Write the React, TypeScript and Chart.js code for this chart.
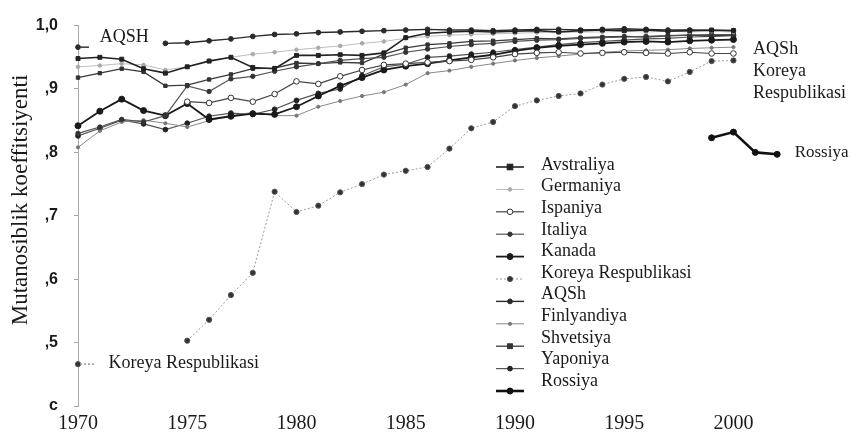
import React, { useEffect, useRef } from "react";
import { Chart, registerables } from "chart.js";

Chart.register(...registerables);

const years = [1970, 1971, 1972, 1973, 1974, 1975, 1976, 1977, 1978, 1979, 1980, 1981, 1982, 1983, 1984, 1985, 1986, 1987, 1988, 1989, 1990, 1991, 1992, 1993, 1994, 1995, 1996, 1997, 1998, 1999, 2000];

const avstraliya = [0.948, 0.95, 0.947, 0.932, 0.925, 0.935, 0.944, 0.95, 0.934, 0.932, 0.953, 0.953, 0.954, 0.953, 0.957, 0.981, 0.988, 0.99, 0.991, 0.99, 0.991, 0.992, 0.99, 0.992, 0.993, 0.992, 0.993, 0.991, 0.992, 0.993, 0.992];
const germaniya = [0.935, 0.937, 0.94, 0.938, 0.93, 0.935, 0.945, 0.95, 0.955, 0.958, 0.962, 0.965, 0.968, 0.972, 0.975, 0.98, 0.983, 0.985, 0.986, 0.987, 0.988, 0.989, 0.989, 0.99, 0.99, 0.991, 0.99, 0.991, 0.99, 0.991, 0.99];
const ispaniya = [null, null, null, null, null, 0.88, 0.878, 0.886, 0.88, 0.892, 0.912, 0.908, 0.92, 0.93, 0.938, 0.94, 0.942, 0.944, 0.946, 0.95, 0.955, 0.957, 0.958, 0.956, 0.957, 0.958, 0.957, 0.956, 0.958, 0.956, 0.956];
const italiya = [0.83, 0.84, 0.852, 0.848, 0.858, 0.905, 0.896, 0.916, 0.92, 0.928, 0.935, 0.94, 0.945, 0.948, 0.95, 0.958, 0.963, 0.967, 0.97, 0.972, 0.975, 0.977, 0.978, 0.98, 0.981, 0.982, 0.983, 0.984, 0.985, 0.986, 0.986];
const kanada = [0.842, 0.865, 0.884, 0.866, 0.858, 0.877, 0.852, 0.857, 0.861, 0.86, 0.872, 0.889, 0.905, 0.918, 0.93, 0.936, 0.94, 0.945, 0.95, 0.954, 0.96, 0.965, 0.968, 0.97, 0.972, 0.974, 0.975, 0.974, 0.976, 0.977, 0.978];
const koreya = [0.466, null, null, null, null, 0.503, 0.536, 0.575, 0.61, 0.738, 0.706, 0.716, 0.737, 0.75, 0.765, 0.771, 0.777, 0.806, 0.838, 0.848, 0.873, 0.882, 0.889, 0.893, 0.907, 0.916, 0.919, 0.912, 0.927, 0.944, 0.945];
const aqsh = [0.966, null, null, null, 0.972, 0.973, 0.976, 0.979, 0.983, 0.986, 0.987, 0.989, 0.99, 0.991, 0.992, 0.993, 0.994, 0.993, 0.993, 0.992, 0.993, 0.994, 0.994, 0.993, 0.994, 0.995, 0.994, 0.993, 0.993, 0.992, 0.992];
const finlyandiya = [0.808, 0.834, 0.848, 0.851, 0.846, 0.84, 0.85, 0.858, 0.863, 0.858, 0.858, 0.872, 0.881, 0.889, 0.895, 0.907, 0.925, 0.929, 0.935, 0.94, 0.945, 0.949, 0.952, 0.955, 0.958, 0.96, 0.961, 0.962, 0.964, 0.965, 0.966];
const shvetsiya = [0.918, 0.925, 0.932, 0.927, 0.905, 0.906, 0.915, 0.923, 0.932, 0.933, 0.941, 0.94, 0.942, 0.941, 0.955, 0.965, 0.97, 0.972, 0.975, 0.976, 0.978, 0.98, 0.979, 0.981, 0.982, 0.983, 0.982, 0.984, 0.985, 0.984, 0.985];
const yaponiya = [0.826, 0.838, 0.851, 0.845, 0.836, 0.846, 0.857, 0.862, 0.86, 0.868, 0.882, 0.893, 0.9, 0.921, 0.935, 0.939, 0.95, 0.952, 0.955, 0.958, 0.962, 0.966, 0.97, 0.973, 0.975, 0.977, 0.979, 0.98, 0.982, 0.983, 0.984];
const rossiyaYears = [1999, 2000, 2001, 2002];
const rossiya = [0.823, 0.832, 0.8, 0.797];

const yTickLabels = ["c", ",5", ",6", ",7", ",8", ",9", "1,0"];
const xTickYears = [1970, 1975, 1980, 1985, 1990, 1995, 2000];
const yTitle = "Mutanosiblik koeffitsiyenti";

const SERIF = '"Liberation Serif", "Times New Roman", serif';

type Style = {
  color: string;
  width: number;
  dash: number[];
  point: "circle" | "rect";
  radius: number;
  fill: string;
  pointBorder: string;
};

function pts(xs: number[], vals: (number | null)[]) {
  return xs.map((x, i) => ({ x, y: vals[i] }));
}

function makeSet(label: string, xs: number[], vals: (number | null)[], s: Style) {
  return {
    label,
    data: pts(xs, vals),
    borderColor: s.color,
    borderWidth: s.width,
    borderDash: s.dash,
    pointStyle: s.point,
    pointRadius: s.radius,
    pointBackgroundColor: s.fill,
    pointBorderColor: s.pointBorder,
    pointBorderWidth: 1,
    spanGaps: false,
    tension: 0,
    clip: false as any,
    _s: s,
  };
}

const legendPlugin = {
  id: "customLegend",
  afterDraw(chart: any) {
    const ctx = chart.ctx as CanvasRenderingContext2D;
    ctx.save();
    chart.data.datasets.forEach((ds: any, i: number) => {
      const s: Style = ds._s;
      const ty = 165 + 21.6 * i;
      const my = ty + 2 + i * 0.8;
      ctx.strokeStyle = s.color;
      ctx.lineWidth = s.width;
      ctx.setLineDash(s.dash);
      ctx.beginPath();
      ctx.moveTo(496, my);
      ctx.lineTo(524, my);
      ctx.stroke();
      ctx.setLineDash([]);
      ctx.fillStyle = s.fill;
      ctx.strokeStyle = s.pointBorder;
      ctx.lineWidth = 1;
      const r = s.radius;
      if (s.point === "rect") {
        ctx.fillRect(510 - r, my - r, 2 * r, 2 * r);
        ctx.strokeRect(510 - r, my - r, 2 * r, 2 * r);
      } else {
        ctx.beginPath();
        ctx.arc(510, my, r, 0, Math.PI * 2);
        ctx.fill();
        ctx.stroke();
      }
      ctx.fillStyle = "#1a1a1a";
      ctx.font = `18px ${SERIF}`;
      ctx.textAlign = "left";
      ctx.textBaseline = "middle";
      ctx.fillText(ds.label, 541, ty);
    });
    ctx.restore();
  },
};

const notesPlugin = {
  id: "notes",
  afterDraw(chart: any) {
    const ctx = chart.ctx as CanvasRenderingContext2D;
    const xs = chart.scales.x;
    const ys = chart.scales.y;
    ctx.save();
    ctx.fillStyle = "#1a1a1a";
    ctx.font = `18px ${SERIF}`;
    ctx.textAlign = "left";
    ctx.textBaseline = "middle";
    ctx.fillText("AQSH", xs.getPixelForValue(1971.0), ys.getPixelForValue(0.981));
    ctx.fillText("Koreya Respublikasi", xs.getPixelForValue(1971.4), ys.getPixelForValue(0.468));
    ctx.fillText("AQSh", xs.getPixelForValue(2000.9), ys.getPixelForValue(0.962));
    ctx.fillText("Koreya", xs.getPixelForValue(2000.9), ys.getPixelForValue(0.928));
    ctx.fillText("Respublikasi", xs.getPixelForValue(2000.9), ys.getPixelForValue(0.893));
    ctx.font = `17px ${SERIF}`;
    ctx.fillText("Rossiya", xs.getPixelForValue(2002.8), ys.getPixelForValue(0.8));
    // rotated axis title
    ctx.save();
    ctx.font = `23px ${SERIF}`;
    ctx.textAlign = "center";
    ctx.translate(21, 200);
    ctx.rotate(-Math.PI / 2);
    ctx.fillText(yTitle, 0, 0);
    ctx.restore();
    // arrow stubs for the isolated 1970 points
    const x0 = xs.getPixelForValue(1970);
    ctx.strokeStyle = "#333";
    ctx.lineWidth = 1.5;
    ctx.beginPath();
    const ya = ys.getPixelForValue(aqsh[0] as number);
    ctx.moveTo(x0 + 2, ya);
    ctx.lineTo(x0 + 11, ya);
    ctx.stroke();
    ctx.strokeStyle = "#999";
    ctx.setLineDash([2, 2]);
    const yk = ys.getPixelForValue(koreya[0] as number);
    ctx.beginPath();
    ctx.moveTo(x0 + 2, yk);
    ctx.lineTo(x0 + 16, yk);
    ctx.stroke();
    ctx.restore();
  },
};

export default function App() {
  const ref = useRef<HTMLCanvasElement | null>(null);
  useEffect(() => {
    if (!ref.current) return;
    const datasets = [
      makeSet("Avstraliya", years, avstraliya, { color: "#222", width: 1.6, dash: [], point: "rect", radius: 2.8, fill: "#222", pointBorder: "#222" }),
      makeSet("Germaniya", years, germaniya, { color: "#bdbdbd", width: 1, dash: [], point: "circle", radius: 1.8, fill: "#aaa", pointBorder: "#aaa" }),
      makeSet("Ispaniya", years, ispaniya, { color: "#444", width: 1.2, dash: [], point: "circle", radius: 2.8, fill: "#fff", pointBorder: "#333" }),
      makeSet("Italiya", years, italiya, { color: "#555", width: 1.2, dash: [], point: "circle", radius: 2.2, fill: "#333", pointBorder: "#333" }),
      makeSet("Kanada", years, kanada, { color: "#1a1a1a", width: 1.8, dash: [], point: "circle", radius: 3, fill: "#1a1a1a", pointBorder: "#1a1a1a" }),
      makeSet("Koreya Respublikasi", years, koreya, { color: "#9a9a9a", width: 1, dash: [2, 2], point: "circle", radius: 2.6, fill: "#333", pointBorder: "#555" }),
      makeSet("AQSh", years, aqsh, { color: "#2a2a2a", width: 1.4, dash: [], point: "circle", radius: 2.4, fill: "#2a2a2a", pointBorder: "#2a2a2a" }),
      makeSet("Finlyandiya", years, finlyandiya, { color: "#8a8a8a", width: 1, dash: [], point: "circle", radius: 1.6, fill: "#777", pointBorder: "#777" }),
      makeSet("Shvetsiya", years, shvetsiya, { color: "#3a3a3a", width: 1.3, dash: [], point: "rect", radius: 2.4, fill: "#333", pointBorder: "#333" }),
      makeSet("Yaponiya", years, yaponiya, { color: "#555", width: 1.2, dash: [], point: "circle", radius: 2.4, fill: "#222", pointBorder: "#222" }),
      makeSet("Rossiya", rossiyaYears, rossiya, { color: "#111", width: 2.6, dash: [], point: "circle", radius: 3, fill: "#111", pointBorder: "#111" }),
    ];
    const chart = new Chart(ref.current, {
      type: "line",
      data: { datasets: datasets as any },
      options: {
        animation: false,
        responsive: true,
        maintainAspectRatio: false,
        layout: { padding: { left: 4, top: 20, right: 52, bottom: 0 } },
        plugins: { legend: { display: false }, tooltip: { enabled: false } },
        scales: {
          x: {
            type: "linear",
            min: 1970,
            max: 2003,
            grid: { display: false },
            border: { display: false },
            afterBuildTicks: (scale: any) => {
              scale.ticks = xTickYears.map((v) => ({ value: v }));
            },
            ticks: {
              autoSkip: false,
              maxRotation: 0,
              padding: 0,
              color: "#1a1a1a",
              font: { family: SERIF, size: 20, lineHeight: 1 },
              callback: (v: any) => String(v),
            },
          },
          y: {
            min: 0.4,
            max: 1.0,
            afterFit: (scale: any) => {
              scale.width = 74;
            },
            afterBuildTicks: (scale: any) => {
              scale.ticks = yTickLabels.map((_, i) => ({ value: (i + 4) / 10 }));
            },
            grid: { display: true, drawOnChartArea: false, tickLength: 4, color: "#aaa" },
            border: { display: true, color: "#aaa", dash: [2, 2], width: 1 },
            title: { display: false },
            ticks: {
              padding: 16,
              color: "#1a1a1a",
              font: { family: '"Liberation Sans", Arial, sans-serif', size: 16, weight: "bold" },
              callback: (v: any) => yTickLabels[Math.round(Number(v) * 10) - 4] ?? "",
            },
          },
        },
      },
      plugins: [legendPlugin, notesPlugin],
    });
    return () => chart.destroy();
  }, []);
  return (
    <div style={{ position: "fixed", left: 0, top: 0, width: 851, height: 434, background: "#fff" }}>
      <canvas ref={ref} />
    </div>
  );
}
